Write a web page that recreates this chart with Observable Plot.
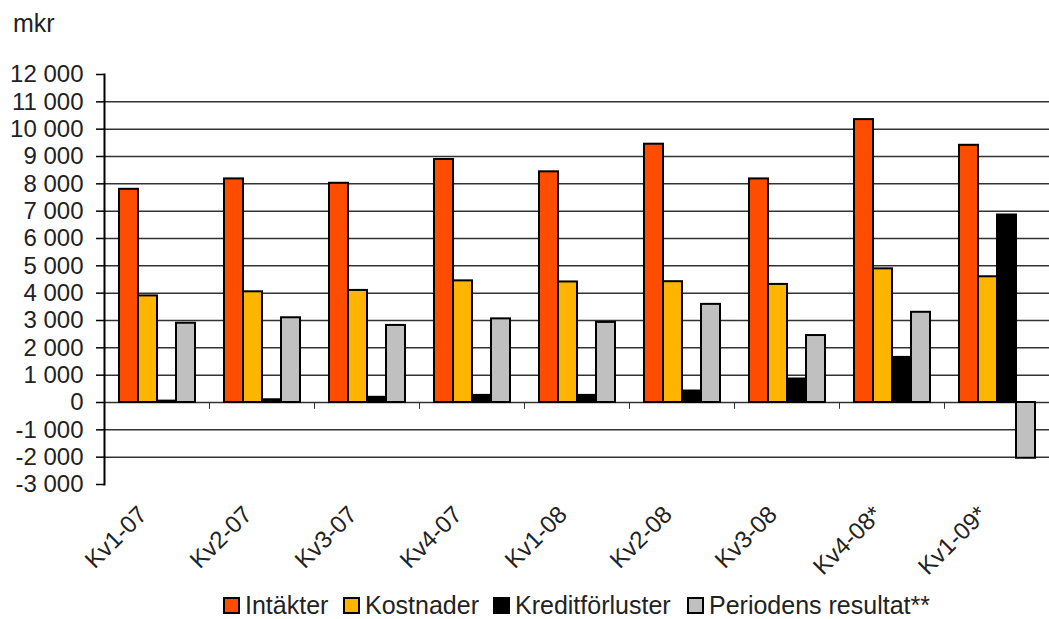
<!DOCTYPE html>
<html>
<head>
<meta charset="utf-8">
<script src="https://cdn.jsdelivr.net/npm/d3@7"></script>
<script src="https://cdn.jsdelivr.net/npm/@observablehq/plot@0.6"></script>
<style>
  html, body { margin: 0; padding: 0; background: #fff; }
  body { width: 1049px; height: 619px; overflow: hidden; font-family: "Liberation Sans", Arial, sans-serif; color: #222; }
  #title { height: 50px; box-sizing: border-box; padding: 11px 0 0 13px; font-size: 25px; line-height: 25px; }
  #legend { position: relative; height: 27px; }
  .item { position: absolute; top: 0; display: flex; align-items: center; height: 27px; font-size: 25px; white-space: nowrap; }
  .sw { width: 13px; height: 13px; border: 2px solid #000; margin-right: 5px; }
</style>
</head>
<body>
<div id="title">mkr</div>
<div id="chart"></div>
<div id="legend"></div>
<script>
const categories = ["Kv1-07", "Kv2-07", "Kv3-07", "Kv4-07", "Kv1-08", "Kv2-08", "Kv3-08", "Kv4-08*", "Kv1-09*"];
const series = ["Intäkter", "Kostnader", "Kreditförluster", "Periodens resultat**"];
const colors = ["#FF4D00", "#FFB400", "#000000", "#C0C0C0"];
const intakter = [7800, 8180, 8020, 8890, 8440, 9450, 8180, 10350, 9410];
const kostnader = [3900, 4050, 4100, 4450, 4410, 4420, 4320, 4890, 4600];
const kreditforluster = [50, 100, 190, 260, 260, 420, 860, 1650, 6860];
const periodensResultat = [2900, 3100, 2820, 3060, 2930, 3590, 2450, 3300, -2040];
const yTicks = [-3000, -2000, -1000, 0, 1000, 2000, 3000, 4000, 5000, 6000, 7000, 8000, 9000, 10000, 11000, 12000];
const gridValues = [-2000, -1000, 0, 1000, 2000, 3000, 4000, 5000, 6000, 7000, 8000, 9000, 10000, 11000];

const valuesBySeries = [intakter, kostnader, kreditforluster, periodensResultat];
const data = [];
categories.forEach((c, i) => series.forEach((s, j) => data.push({cat: c, series: s, value: valuesBySeries[j][i]})));

const fmt = n => (n < 0 ? "-" : "") + d3.format(",")(Math.abs(n)).replace(/,/g, " ");

const chart = Plot.plot({
  width: 1049,
  height: 542,
  marginLeft: 104,
  marginRight: 0,
  marginTop: 24,
  marginBottom: 108,
  style: {fontFamily: "'Liberation Sans', Arial, sans-serif", color: "#222", background: "#fff"},
  fx: {domain: categories, padding: 0, label: null},
  x: {domain: series, paddingInner: 0, paddingOuter: 0.69, axis: null},
  y: {domain: [-3000, 12000], label: null},
  color: {domain: series, range: colors},
  marks: [
    Plot.ruleY(gridValues, {stroke: "#333", strokeWidth: 1.5}),
    Plot.rect([{a: 0, b: -250}], {y1: "a", y2: "b", insetRight: 104, fill: "#333"}),
    Plot.barY(data, {fx: "cat", x: "series", y: "value", fill: "series", stroke: "#000", strokeWidth: 2}),
    Plot.frame({anchor: "left", facetAnchor: "left", stroke: "#000", strokeWidth: 2}),
    Plot.axisY({ticks: yTicks, tickSize: 8, tickPadding: 13, fontSize: 24, tickFormat: fmt, label: null, facetAnchor: "left", stroke: "#000", strokeWidth: 1.5}),
    Plot.axisFx({anchor: "bottom", tickSize: 0, tickPadding: 26, tickRotate: -45, fontSize: 24, dx: -14, label: null})
  ]
});
document.getElementById("chart").appendChild(chart);

const legend = document.getElementById("legend");
const lefts = [223, 343, 493, 687];
series.forEach((s, j) => {
  const it = document.createElement("div");
  it.className = "item";
  it.style.left = lefts[j] + "px";
  const sw = document.createElement("div");
  sw.className = "sw";
  sw.style.background = colors[j];
  const t = document.createElement("span");
  t.textContent = s;
  it.appendChild(sw);
  it.appendChild(t);
  legend.appendChild(it);
});
</script>
</body>
</html>
